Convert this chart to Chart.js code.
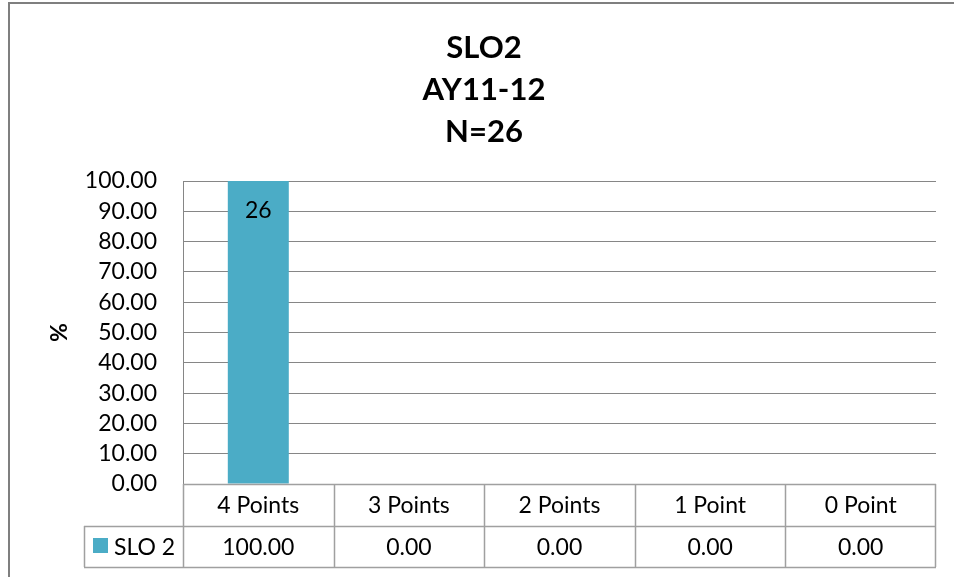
<!DOCTYPE html>
<html>
<head>
<meta charset="utf-8">
<script src="https://cdn.jsdelivr.net/npm/chart.js@4/dist/chart.umd.min.js"></script>
<style>
  body { margin: 0; background: #fff; }
  #wrap { width: 954px; height: 577px; position: relative; }
</style>
</head>
<body>
<div id="wrap"><canvas id="myChart"></canvas></div>
<script>
const titleLines = ['SLO2', 'AY11-12', 'N=26'];
const categories = ['4 Points', '3 Points', '2 Points', '1 Point', '0 Point'];
const seriesName = 'SLO 2';
const percents = [100, 0, 0, 0, 0];
const counts = [26, 0, 0, 0, 0];

const barColor = '#4BACC6';
const gridColor = '#868686';
const tableColor = '#a0a0a0';
const fontFamily = 'Lato, "Open Sans", sans-serif';

// frame, title, data labels and the data table under the plot
const extras = {
  id: 'extras',
  afterDraw(chart) {
    const {ctx, chartArea} = chart;
    const x = chart.scales.x;
    ctx.save();

    // outer frame
    ctx.strokeStyle = '#7f7f7f';
    ctx.lineWidth = 2;
    ctx.beginPath();
    ctx.moveTo(9, 577);
    ctx.lineTo(9, 3);
    ctx.lineTo(954, 3);
    ctx.stroke();

    // title
    ctx.fillStyle = '#000';
    ctx.textAlign = 'center';
    ctx.textBaseline = 'middle';
    ctx.font = 'bold 31px ' + fontFamily;
    titleLines.forEach((t, i) => ctx.fillText(t, 484, 48 + i * 42));

    // count labels inside bars
    ctx.font = '23px ' + fontFamily;
    const meta = chart.getDatasetMeta(0);
    meta.data.forEach((bar, i) => {
      if (counts[i] > 0) ctx.fillText(String(counts[i]), bar.x, bar.y + 30);
    });

    // data table
    const top = chartArea.bottom;
    const mid = top + 42;
    const bot = mid + 41;
    const left = chartArea.left;
    const right = chartArea.right;
    const keyLeft = 84;
    const half = (x.getPixelForValue(1) - x.getPixelForValue(0)) / 2;

    ctx.strokeStyle = tableColor;
    ctx.lineWidth = 1.5;
    ctx.beginPath();
    ctx.moveTo(left, top + 0.5); ctx.lineTo(right, top + 0.5);
    ctx.moveTo(keyLeft, mid + 0.5); ctx.lineTo(right, mid + 0.5);
    ctx.moveTo(keyLeft, bot + 0.5); ctx.lineTo(right, bot + 0.5);
    ctx.moveTo(keyLeft + 0.5, mid); ctx.lineTo(keyLeft + 0.5, bot);
    categories.forEach((c, i) => {
      const cx = x.getPixelForValue(i);
      ctx.moveTo(Math.round(cx - half) + 0.5, top);
      ctx.lineTo(Math.round(cx - half) + 0.5, bot);
    });
    ctx.moveTo(right - 0.5, top); ctx.lineTo(right - 0.5, bot);
    ctx.stroke();

    ctx.fillStyle = '#000';
    ctx.font = '23px ' + fontFamily;
    categories.forEach((c, i) => {
      const cx = x.getPixelForValue(i);
      ctx.fillText(c, cx, (top + mid) / 2 + 1);
      ctx.fillText(percents[i].toFixed(2), cx, (mid + bot) / 2 + 1);
    });

    // legend key
    ctx.fillStyle = barColor;
    ctx.fillRect(93, mid + 12, 15, 15);
    ctx.fillStyle = '#000';
    ctx.textAlign = 'left';
    ctx.fillText(seriesName, 114, (mid + bot) / 2 + 1);

    ctx.restore();
  }
};

new Chart(document.getElementById('myChart'), {
  type: 'bar',
  data: {
    labels: categories,
    datasets: [{
      label: seriesName,
      data: percents,
      backgroundColor: barColor,
      borderWidth: 0,
      barPercentage: 0.405,
      categoryPercentage: 1
    }]
  },
  options: {
    responsive: true,
    maintainAspectRatio: false,
    animation: false,
    layout: { padding: { left: 30, right: 18, top: 181, bottom: 93 } },
    plugins: {
      legend: { display: false },
      tooltip: { enabled: false }
    },
    scales: {
      x: { display: false },
      y: {
        min: 0,
        max: 100,
        afterFit(scale) { scale.width = 153; },
        ticks: {
          stepSize: 10,
          autoSkip: false,
          padding: 26,
          color: '#000',
          font: { family: fontFamily, size: 23 },
          callback: v => Number(v).toFixed(2)
        },
        grid: { color: gridColor, drawTicks: false },
        border: { display: true, color: gridColor },
        title: {
          display: true,
          text: '%',
          color: '#000',
          font: { family: fontFamily, size: 23, weight: 'bold' },
          padding: { top: 16, bottom: 0 }
        }
      }
    }
  },
  plugins: [extras]
});
</script>
</body>
</html>
